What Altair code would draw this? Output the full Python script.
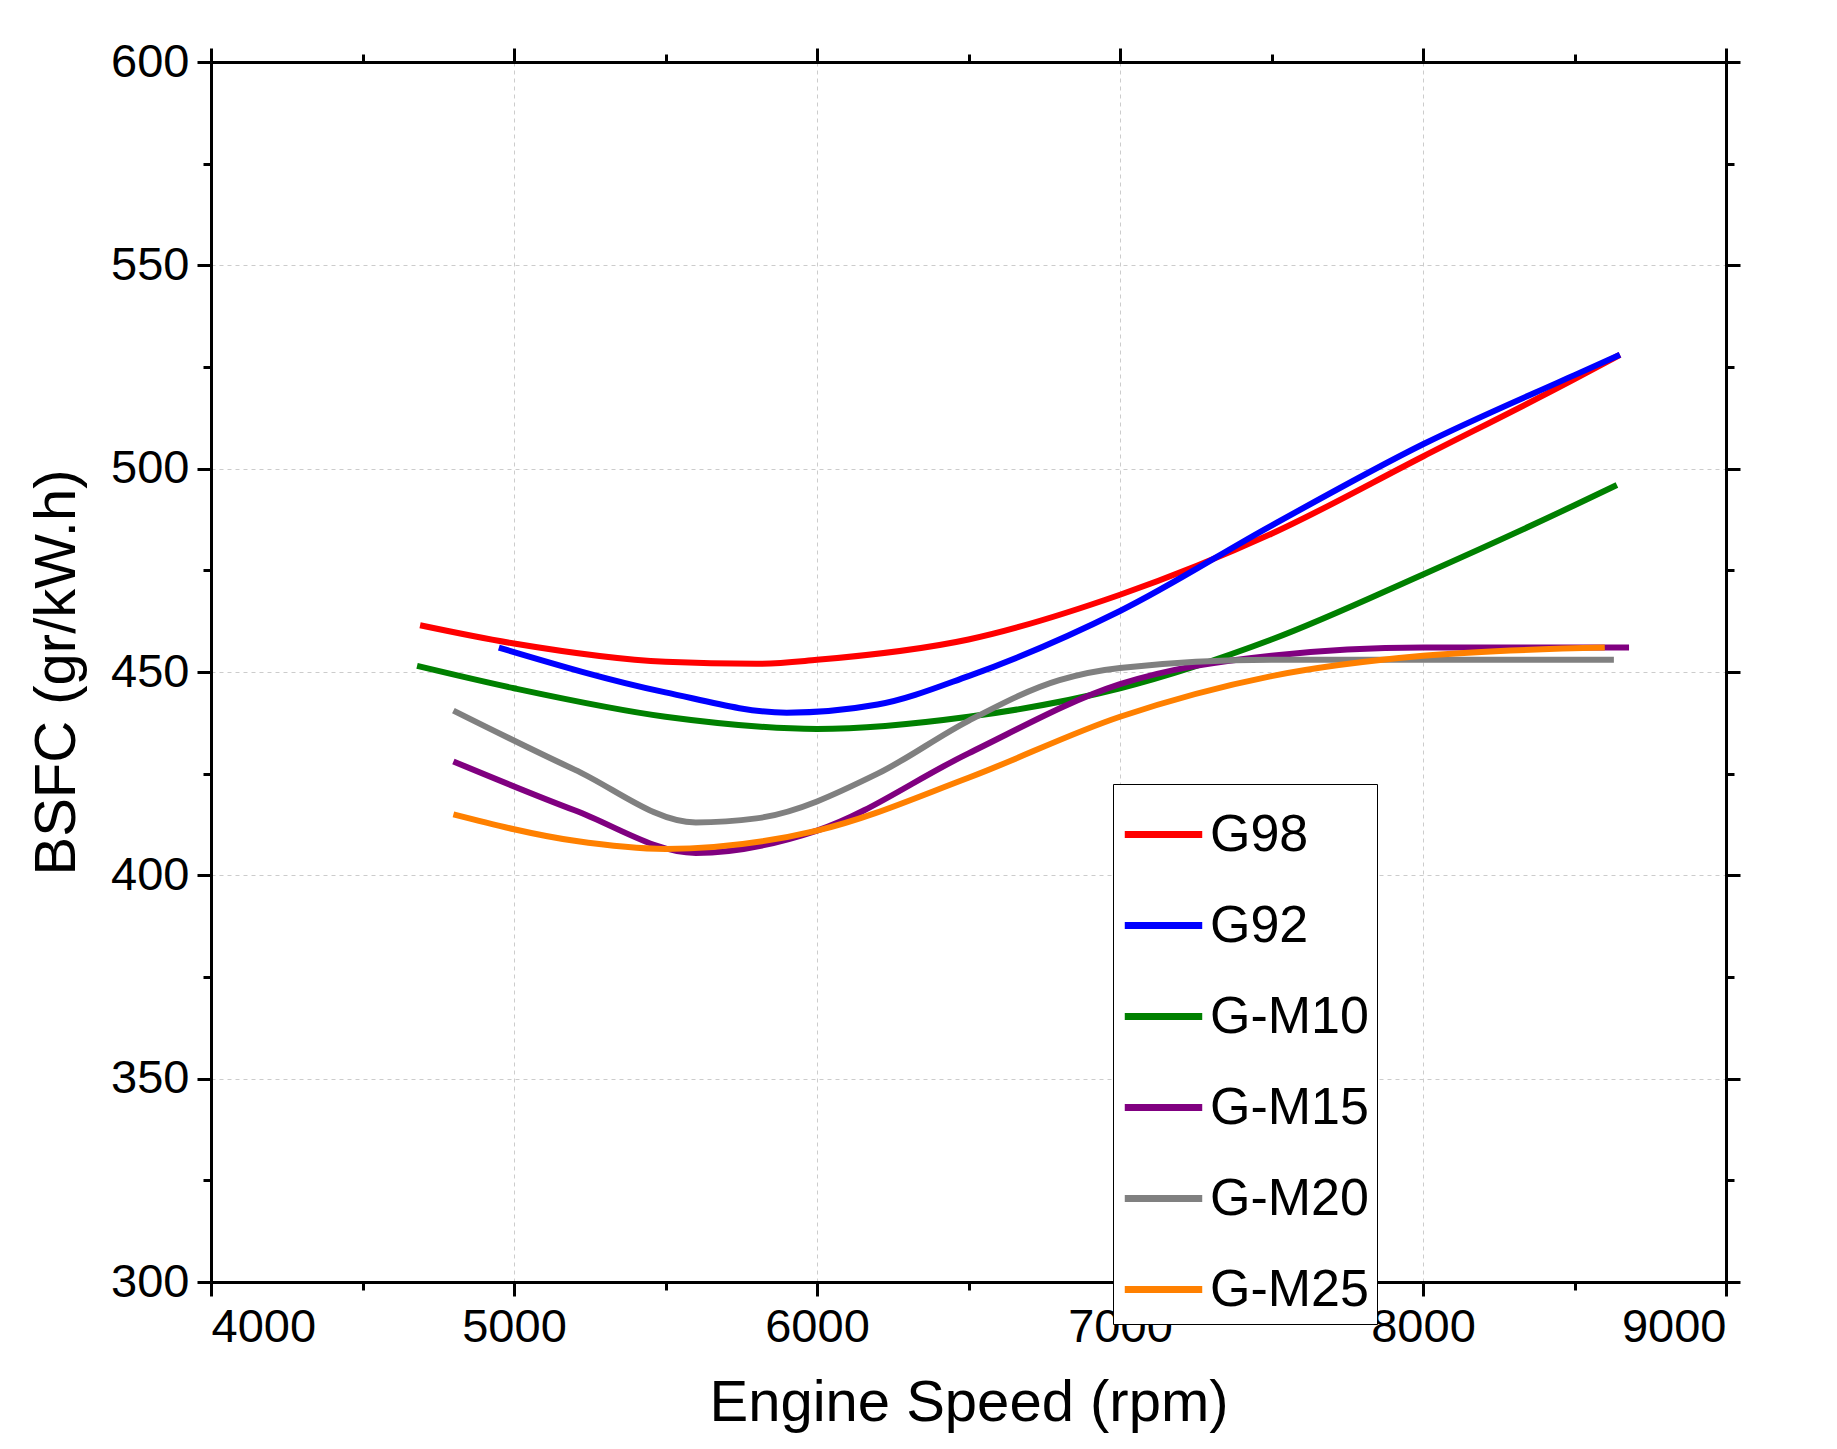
import pandas as pd
import altair as alt

series = ["G98", "G92", "G-M10", "G-M15", "G-M20", "G-M25"]
colors = ["#ff0000", "#0000ff", "#008000", "#800080", "#808080", "#ff8000"]

g98_x = [4690, 5000, 5500, 5800, 6000, 6500, 7000, 7500, 8000, 8500, 8650]
g98_y = [461.5, 457, 452.5, 452, 453, 458, 469, 484, 503, 522, 528]
g92_x = [4950, 5500, 5900, 6200, 6500, 7000, 7500, 8000, 8500, 8650]
g92_y = [456, 445, 440, 442, 449, 465, 486, 506, 523, 528]
m10_x = [4680, 5000, 5500, 6000, 6500, 7000, 7500, 8000, 8500, 8640]
m10_y = [451.5, 446, 439, 436, 439, 446, 458, 474, 491, 496]
m15_x = [4800, 5200, 5600, 6000, 6500, 7000, 7500, 8000, 8680]
m15_y = [428, 416, 405.5, 411, 430, 447, 454, 456, 456]
m20_x = [4800, 5200, 5600, 5800, 6200, 6500, 6800, 7000, 7500, 8630]
m20_y = [440.5, 426, 413, 414, 425, 438, 448, 451, 453, 453]
m25_x = [4800, 5200, 5500, 6000, 6500, 7000, 7500, 8000, 8600]
m25_y = [415, 408.5, 406.5, 411, 424, 439, 449, 454, 456]

rows = []
for name, xs, ys in zip(series, [g98_x, g92_x, m10_x, m15_x, m20_x, m25_x],
                        [g98_y, g92_y, m10_y, m15_y, m20_y, m25_y]):
    rows += [{"fuel": name, "rpm": a, "bsfc": b} for a, b in zip(xs, ys)]
df = pd.DataFrame(rows)

xs = alt.Scale(domain=[4000, 9000], nice=False)
ys = alt.Scale(domain=[300, 600], nice=False)
xticks = list(range(4000, 9001, 500))
yticks = list(range(300, 601, 25))

minor_x = "datum.value % 1000 !== 0"
minor_y = "datum.value % 50 !== 0"

lines = alt.Chart(df).mark_line(interpolate="monotone", strokeWidth=6).encode(
    x=alt.X("rpm:Q", scale=xs, title="Engine Speed (rpm)",
            axis=alt.Axis(values=xticks, labelExpr=f"{minor_x} ? '' : datum.value",
                          format="d", grid=True, gridDash=[4, 4], gridColor="#cccccc",
                          gridOpacity={"condition": {"test": minor_x, "value": 0}, "value": 1},
                          tickSize={"condition": {"test": minor_x, "value": 8}, "value": 14},
                          tickWidth=3, tickColor="black", domainColor="black", domainWidth=3,
                          labelFontSize=47, titleFontSize=58, titleFontWeight="normal",
                          labelPadding=8, titlePadding=24)),
    y=alt.Y("bsfc:Q", scale=ys, title="BSFC (gr/kW.h)",
            axis=alt.Axis(values=yticks, labelExpr=f"{minor_y} ? '' : datum.value",
                          grid=True, gridDash=[4, 4], gridColor="#cccccc",
                          gridOpacity={"condition": {"test": minor_y, "value": 0}, "value": 1},
                          tickSize={"condition": {"test": minor_y, "value": 8}, "value": 14},
                          tickWidth=3, tickColor="black", domainColor="black", domainWidth=3,
                          labelFontSize=47, titleFontSize=58, titleFontWeight="normal",
                          labelPadding=8, titlePadding=24)),
    color=alt.Color("fuel:N", scale=alt.Scale(domain=series, range=colors),
                    sort=series,
                    legend=alt.Legend(title=None, orient="none", legendX=902, legendY=722,
                                      symbolType="stroke", symbolStrokeWidth=7, symbolSize=6000,
                                      labelFontSize=52, rowPadding=22, fillColor="white",
                                      strokeColor="black", padding=8, labelLimit=0)),
)

mirror = alt.Chart(df).mark_point(opacity=0).encode(
    x=alt.X("rpm:Q", scale=xs, axis=alt.Axis(orient="top", values=xticks, labels=False, title=None,
                                             tickSize={"condition": {"test": minor_x, "value": 8}, "value": 14},
                                             tickWidth=3, tickColor="black", domainWidth=3, domainColor="black")),
    y=alt.Y("bsfc:Q", scale=ys, axis=alt.Axis(orient="right", values=yticks, labels=False, title=None,
                                              tickSize={"condition": {"test": minor_y, "value": 8}, "value": 14},
                                              tickWidth=3, tickColor="black", domainWidth=3, domainColor="black")),
)

chart = alt.layer(lines, mirror).resolve_axis(x="independent", y="independent").properties(
    width=1515, height=1220, padding={"left": 20, "top": 30, "right": 40, "bottom": 10}
).configure_view(stroke="black", strokeWidth=3).configure(font="Arial")

chart.save("out.html", embed_options={"renderer": "svg", "actions": False})
